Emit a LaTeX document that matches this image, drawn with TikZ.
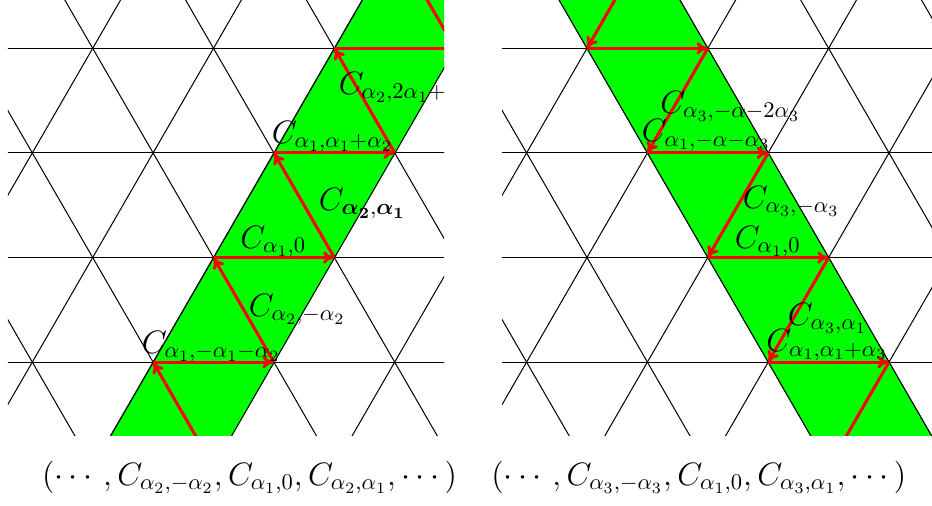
\documentclass[tikz,border=0pt]{standalone}
\usepackage{amsmath}
\usepackage{bm}
\usetikzlibrary{arrows.meta}
\definecolor{bandgreen}{RGB}{0,255,0}
\definecolor{arrred}{RGB}{255,0,0}
\tikzset{
  gridline/.style={draw=black, line width=0.45pt},
  band/.style={fill=bandgreen, draw=black, line width=0.45pt},
  conn/.style={draw=arrred, line width=1.35pt, -{To[length=4.8pt,width=5.5pt]}, shorten >=0.3pt},
  lab/.style={anchor=base west, inner sep=0pt, font=\Large},
  tuple/.style={anchor=base west, inner sep=0pt, font=\Large},
}
\begin{document}
\begin{tikzpicture}[x=0.4443pt,y=-0.4443pt]
\useasboundingbox (0,0) rectangle (932,505);
% ---------- left panel ----------
\begin{scope}
  \clip (8,0) rectangle (444,435.3);
  \foreach \k in {-1,...,4} {
    \draw[gridline] (-100,{48.3+104.6*\k}) -- (1100,{48.3+104.6*\k});
  }
  \foreach \m in {-6,...,10} {
    \pgfmathsetmacro{\vx}{92.7+120.8*\m}
    \draw[gridline] ({\vx+120.8},-160.9) -- ({\vx-302},571.3);
    \draw[gridline] ({\vx-120.8},-160.9) -- ({\vx+302},571.3);
  }
  \filldraw[band] (32.5,571.5) -- (455.3,-160.7) -- (576.1,-160.7) -- (153.3,571.5) -- cycle;
  \coordinate (P0) at (213.5,466.7);
  \coordinate (P1) at (153.1,362.1);
  \coordinate (P2) at (273.9,362.1);
  \coordinate (P3) at (213.5,257.5);
  \coordinate (P4) at (334.3,257.5);
  \coordinate (P5) at (273.9,152.9);
  \coordinate (P6) at (394.7,152.9);
  \coordinate (P7) at (334.3,48.3);
  \coordinate (P8) at (455.1,48.3);
  \coordinate (P9) at (394.7,-56.3);
  \draw[conn] (P0) -- (P1);
  \draw[conn] (P1) -- (P2);
  \draw[conn] (P2) -- (P3);
  \draw[conn] (P3) -- (P4);
  \draw[conn] (P4) -- (P5);
  \draw[conn] (P5) -- (P6);
  \draw[conn] (P6) -- (P7);
  \draw[conn] (P7) -- (P8);
  \draw[conn] (P8) -- (P9);
  \node[lab] (la1) at (141.5,353) {$C_{\alpha_1,-\alpha_1-\alpha_2}$};
  \node[lab] (la2) at (248.5,316) {$C_{\alpha_2,-\alpha_2}$};
  \node[lab] (la3) at (240,248) {$C_{\alpha_1,0}$};
  \node[lab] (la4) at (271.5,143) {$C_{\alpha_1,\alpha_1+\alpha_2}$};
  \node[lab] (la5) at (318.5,210) {$C_{\bm{\alpha_2},\bm{\alpha_1}}$};
  \node[lab] (la6) at (338.5,94) {$C_{\alpha_2,2\alpha_1+\alpha_2}$};
\end{scope}
% ---------- right panel ----------
\begin{scope}
  \clip (502,0) rectangle (932,435.3);
  \foreach \k in {-1,...,4} {
    \draw[gridline] (-100,{48.3+104.6*\k}) -- (1100,{48.3+104.6*\k});
  }
  \foreach \m in {-6,...,10} {
    \pgfmathsetmacro{\vx}{587+120.8*\m}
    \draw[gridline] ({\vx+120.8},-160.9) -- ({\vx-302},571.3);
    \draw[gridline] ({\vx-120.8},-160.9) -- ({\vx+302},571.3);
  }
  \filldraw[band] (466.2,-160.9) -- (889,571.3) -- (1009.8,571.3) -- (587,-160.9) -- cycle;
  \coordinate (Q0) at (647.4,-56.3);
  \coordinate (Q1) at (587,48.3);
  \coordinate (Q2) at (707.8,48.3);
  \coordinate (Q3) at (647.4,152.9);
  \coordinate (Q4) at (768.2,152.9);
  \coordinate (Q5) at (707.8,257.5);
  \coordinate (Q6) at (828.6,257.5);
  \coordinate (Q7) at (768.2,362.1);
  \coordinate (Q8) at (889,362.1);
  \coordinate (Q9) at (828.6,466.7);
  \draw[conn] (Q0) -- (Q1);
  \draw[conn] (Q1) -- (Q2);
  \draw[conn] (Q2) -- (Q3);
  \draw[conn] (Q3) -- (Q4);
  \draw[conn] (Q4) -- (Q5);
  \draw[conn] (Q5) -- (Q6);
  \draw[conn] (Q6) -- (Q7);
  \draw[conn] (Q7) -- (Q8);
  \draw[conn] (Q8) -- (Q9);
  \node[lab] (lb1) at (660,113) {$C_{\alpha_3,-\alpha-2\alpha_3}$};
  \node[lab] (lb2) at (641.5,141.7) {$C_{\alpha_1,-\alpha-\alpha_3}$};
  \node[lab] (lb3) at (742.5,208) {$C_{\alpha_3,-\alpha_3}$};
  \node[lab] (lb4) at (734.5,248) {$C_{\alpha_1,0}$};
  \node[lab] (lb5) at (787.5,325) {$C_{\alpha_3,\alpha_1}$};
  \node[lab] (lb6) at (766,351.7) {$C_{\alpha_1,\alpha_1+\alpha_3}$};
\end{scope}
% ---------- tuples ----------
\node[tuple] (t1) at (41.7,485) {$(\cdots, C_{\alpha_2,-\alpha_2}, C_{\alpha_1,0}, C_{\alpha_2,\alpha_1}, \cdots)$};
\node[tuple] (t2) at (491,485) {$(\cdots, C_{\alpha_3,-\alpha_3}, C_{\alpha_1,0}, C_{\alpha_3,\alpha_1}, \cdots)$};
\end{tikzpicture}
\end{document}
